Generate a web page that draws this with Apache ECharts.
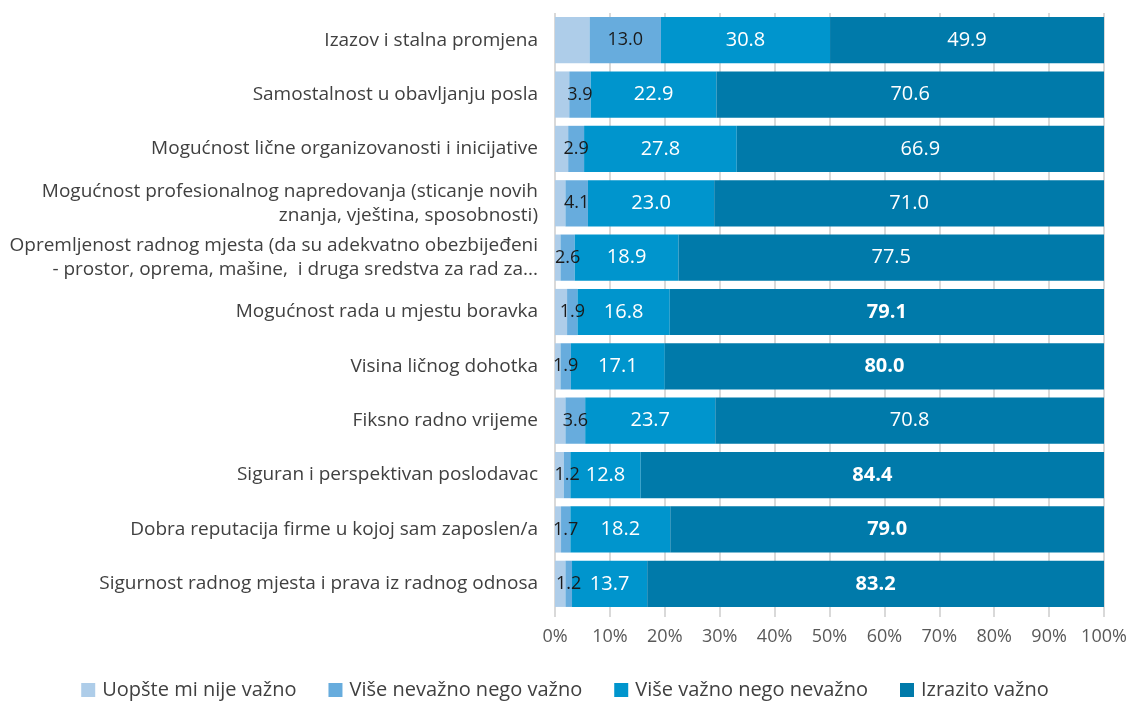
<!DOCTYPE html>
<html>
<head>
<meta charset="utf-8">
<script src="https://cdn.jsdelivr.net/npm/echarts@6/dist/echarts.min.js"></script>
<style>
  html, body {margin: 0; padding: 0; background: #fff;}
  #chart {width: 1130px; height: 702px;}
</style>
</head>
<body>
<div id="chart"></div>
<script>
const categories = [
  'Izazov i stalna promjena',
  'Samostalnost u obavljanju posla',
  'Mogućnost lične organizovanosti i inicijative',
  'Mogućnost profesionalnog napredovanja (sticanje novih\nznanja, vještina, sposobnosti)',
  'Opremljenost radnog mjesta (da su adekvatno obezbijeđeni\n- prostor, oprema, mašine,  i druga sredstva za rad za...',
  'Mogućnost rada u mjestu boravka',
  'Visina ličnog dohotka',
  'Fiksno radno vrijeme',
  'Siguran i perspektivan poslodavac',
  'Dobra reputacija firme u kojoj sam zaposlen/a',
  'Sigurnost radnog mjesta i prava iz radnog odnosa'
]
const seriesNames = ['Uopšte mi nije važno', 'Više nevažno nego važno', 'Više važno nego nevažno', 'Izrazito važno']
const notImportant = [6.3, 2.6, 2.4, 1.9, 1.0, 2.2, 1.0, 1.9, 1.6, 1.1, 1.9]
const lessImportant = [13.0, 3.9, 2.9, 4.1, 2.6, 1.9, 1.9, 3.6, 1.2, 1.7, 1.2]
const moreImportant = [30.8, 22.9, 27.8, 23.0, 18.9, 16.8, 17.1, 23.7, 12.8, 18.2, 13.7]
const veryImportant = [49.9, 70.6, 66.9, 71.0, 77.5, 79.1, 80.0, 70.8, 84.4, 79.0, 83.2]
const colors = ['#aecde9', '#67acdd', '#0095cd', '#007aaa']

const font = '"Open Sans", "Noto Sans", sans-serif'
const rev = arr => arr.slice().reverse()

const chart = echarts.init(document.getElementById('chart'))

const fmt = p => p.value.toFixed(1)

chart.setOption({
  animation: false,
  textStyle: {fontFamily: font},
  grid: {left: 555, right: 26, top: 13, bottom: 91, containLabel: false},
  legend: {
    bottom: -3,
    left: 'center',
    itemWidth: 14,
    itemHeight: 14,
    itemGap: 32,
    icon: 'rect',
    textStyle: {color: '#404040', fontSize: 20, fontFamily: font, padding: [0, 0, 0, 2]},
    data: seriesNames
  },
  xAxis: {
    type: 'value',
    min: 0,
    max: 100,
    interval: 10,
    axisLine: {show: false},
    axisTick: {show: true, length: 6, lineStyle: {color: '#d9d9d9', width: 2}},
    splitLine: {show: true, lineStyle: {color: '#d9d9d9', width: 2}},
    axisLabel: {color: '#595959', fontSize: 18, margin: 17, formatter: '{value}%'}
  },
  yAxis: {
    type: 'category',
    data: rev(categories),
    axisLine: {show: false},
    axisTick: {show: false},
    axisLabel: {color: '#404040', fontSize: 19, margin: 17, lineHeight: 24, align: 'right'}
  },
  series: [
    {
      name: seriesNames[0], type: 'bar', stack: 'all', barCategoryGap: '15%',
      itemStyle: {color: colors[0]},
      data: rev(notImportant)
    },
    {
      name: seriesNames[1], type: 'bar', stack: 'all',
      itemStyle: {color: colors[1]},
      label: {show: true, position: 'inside', color: '#1a1a1a', fontSize: 18, formatter: fmt},
      labelLayout: {hideOverlap: false},
      data: rev(lessImportant)
    },
    {
      name: seriesNames[2], type: 'bar', stack: 'all',
      itemStyle: {color: colors[2]},
      label: {show: true, position: 'inside', color: '#ffffff', fontSize: 20, formatter: fmt},
      data: rev(moreImportant)
    },
    {
      name: seriesNames[3], type: 'bar', stack: 'all',
      itemStyle: {color: colors[3]},
      label: {
        show: true, position: 'inside', color: '#ffffff', fontSize: 20,
        formatter: p => p.value >= 79 ? '{b|' + fmt(p) + '}' : fmt(p),
        rich: {b: {fontWeight: 'bold', color: '#ffffff', fontSize: 20, fontFamily: font}}
      },
      data: rev(veryImportant)
    }
  ]
})
</script>
</body>
</html>
